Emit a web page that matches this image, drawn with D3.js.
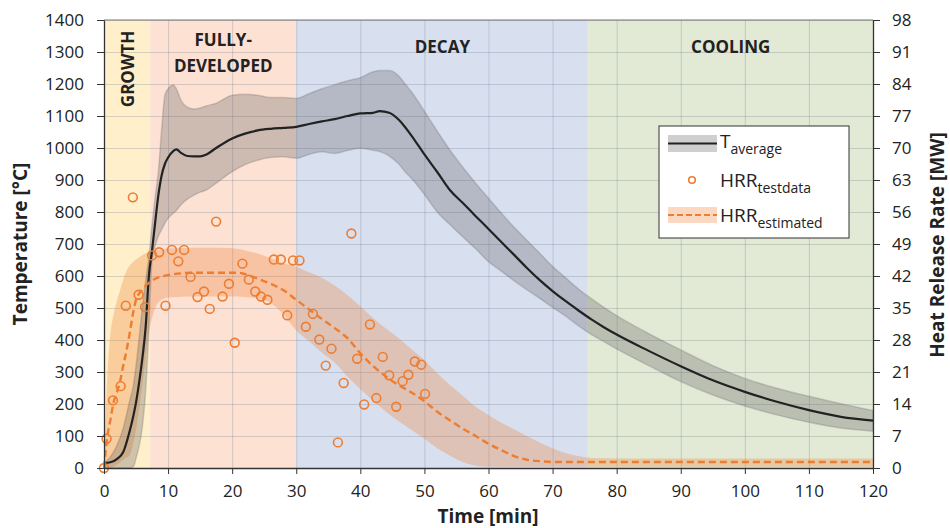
<!DOCTYPE html>
<html>
<head>
<meta charset="utf-8">
<script src="https://d3js.org/d3.v7.min.js"></script>
<style>
  body { margin: 0; background: #fff; }
  svg text { font-family: "Open Sans", sans-serif; fill: #222; }
</style>
</head>
<body>
<div id="chart"></div>
<script>
// phases (minutes)
var phaseNames = ["GROWTH", "FULLY-DEVELOPED", "DECAY", "COOLING"];
var phaseEdges = [0, 7.2, 30, 75.5, 120];
var phaseColors = ["#fff0cb", "#fde1d3", "#d8e0f0", "#e2e9d5"];

// average temperature with its spread band [°C]
var tempTime  = [0, 1, 2, 3, 4, 4.6, 5, 5.5, 6, 6.5, 7, 7.5, 8, 8.5, 9, 9.5, 10, 10.8, 11.3, 12, 13, 14, 15, 16, 17.5, 20, 22, 24, 26, 28, 30, 32, 34, 36, 38, 40, 42, 43, 44.5, 46, 47, 48, 50, 52, 54, 56, 58, 60, 62, 64, 66, 68, 70, 72, 74, 76, 78, 80, 85, 90, 95, 100, 105, 110, 115, 120];
var tempAvg   = [15, 18, 28, 50, 115, 165, 205, 270, 345, 440, 600, 680, 770, 855, 915, 950, 970, 990, 996, 985, 975, 974, 974, 980, 1000, 1030, 1045, 1055, 1060, 1063, 1066, 1075, 1083, 1090, 1100, 1108, 1110, 1115, 1110, 1088, 1065, 1038, 980, 925, 868, 828, 787, 747, 706, 666, 625, 587, 553, 522, 493, 465, 440, 417, 366, 318, 274, 238, 207, 181, 160, 148];
var tempUpper = [15, 35, 70, 125, 210, 260, 320, 410, 505, 585, 660, 760, 850, 930, 1060, 1165, 1185, 1197, 1185, 1150, 1128, 1122, 1125, 1132, 1140, 1165, 1168, 1165, 1158, 1158, 1155, 1170, 1185, 1198, 1210, 1220, 1238, 1242, 1242, 1225, 1200, 1175, 1115, 1053, 993, 940, 890, 843, 797, 752, 712, 671, 630, 595, 560, 530, 502, 476, 420, 369, 320, 280, 249, 224, 201, 180];
var tempLower = [0, 0, 0, 0, 0, 5, 30, 70, 130, 240, 430, 650, 695, 725, 745, 765, 780, 796, 805, 822, 840, 852, 862, 869, 890, 926, 948, 962, 970, 973, 968, 980, 988, 983, 992, 999, 993, 989, 975, 950, 925, 905, 855, 800, 760, 722, 685, 645, 615, 585, 557, 530, 502, 475, 445, 418, 395, 372, 320, 270, 228, 194, 166, 143, 125, 115];

// estimated heat release rate with band [MW]
var hrrTime  = [0, 0.5, 1, 1.5, 2, 2.5, 3, 3.5, 4, 4.5, 5, 5.5, 6, 7, 8, 9, 10, 14, 18, 21, 22, 24, 26, 28, 30, 32, 34, 36, 38, 40, 42, 44, 46, 48, 50, 52, 54, 56, 58, 60, 62, 64, 66, 68, 70, 72, 74, 76, 80, 120];
var hrrEst   = [0, 6.7, 10.5, 14.4, 16.5, 18.9, 22.4, 25.6, 29.4, 33.6, 36.8, 38.2, 39.1, 40.5, 41.4, 41.9, 42.2, 42.7, 42.7, 42.7, 42.4, 41.4, 40.3, 38.9, 36.8, 34.7, 32.6, 30.6, 28.4, 25.1, 22.3, 20.0, 18.1, 16.5, 14.6, 12.3, 10.4, 8.6, 7.0, 5.3, 3.9, 2.6, 1.8, 1.5, 1.3, 1.3, 1.3, 1.3, 1.3, 1.3];
var hrrUpper = [0, 19.6, 29.4, 33.6, 36.5, 38.9, 41.2, 43.1, 44.3, 45.0, 45.6, 46.1, 46.6, 47.2, 47.6, 47.8, 48.0, 48.2, 48.2, 47.9, 47.6, 46.9, 45.9, 44.8, 44.0, 42.8, 41.6, 39.9, 37.8, 35.4, 32.8, 30.5, 28.4, 26.0, 23.6, 20.7, 18.1, 15.8, 13.4, 11.6, 9.9, 8.5, 7.0, 5.6, 4.3, 3.3, 2.6, 2.2, 2.1, 2.1];
var hrrLower = [0, 0, 0, 0.3, 0.7, 1.2, 1.8, 2.3, 2.8, 5.0, 8.4, 13.0, 18.2, 29.4, 35.0, 36.8, 37.3, 37.5, 37.5, 37.5, 37.4, 37.1, 36.1, 33.6, 30.1, 27.7, 25.2, 23.1, 20.0, 17.2, 14.7, 12.3, 10.2, 8.3, 6.4, 4.3, 2.7, 1.3, 0.5, 0.3, 0.3, 0.3, 0.3, 0.3, 0.3, 0.3, 0.3, 0.3, 0.3, 0.3];

// measured heat release rate [MW]
var testTime = [0, 0.4, 1.4, 2.6, 3.4, 4.5, 5.4, 6.4, 7.5, 8.6, 9.6, 10.6, 11.6, 12.5, 13.5, 14.6, 15.6, 16.5, 17.5, 18.5, 19.5, 20.4, 21.6, 22.6, 23.6, 24.5, 25.5, 26.5, 27.6, 28.6, 29.5, 30.5, 31.5, 32.6, 33.6, 34.6, 35.5, 36.5, 37.4, 38.6, 39.5, 40.6, 41.5, 42.5, 43.5, 44.5, 45.6, 46.6, 47.5, 48.5, 49.5, 50.1];
var testHrr  = [0, 6.4, 14.8, 17.9, 35.5, 59.2, 37.9, 35.2, 46.5, 47.2, 35.5, 47.7, 45.2, 47.7, 41.8, 37.4, 38.6, 34.8, 53.9, 37.5, 40.3, 27.4, 44.7, 41.2, 38.6, 37.5, 36.8, 45.6, 45.6, 33.4, 45.4, 45.4, 30.9, 33.7, 28.1, 22.4, 26.1, 5.6, 18.6, 51.3, 23.9, 13.9, 31.4, 15.3, 24.3, 20.3, 13.4, 19.0, 20.4, 23.3, 22.6, 16.2];

var timeTicks = [0, 10, 20, 30, 40, 50, 60, 70, 80, 90, 100, 110, 120];
var tempTicks = [0, 100, 200, 300, 400, 500, 600, 700, 800, 900, 1000, 1100, 1200, 1300, 1400];
var hrrTicks  = [0, 7, 14, 21, 28, 35, 42, 49, 56, 63, 70, 77, 84, 91, 98];

var margin = {top: 20, right: 77, bottom: 60, left: 104};
var width = 950 - margin.left - margin.right;
var height = 528 - margin.top - margin.bottom;
var orange = "#ed7d31";

var svg = d3.select("#chart").append("svg")
    .attr("width", 950)
    .attr("height", 528),
    g = svg.append("g")
    .attr("transform", "translate(" + margin.left + "," + margin.top + ")");

var x = d3.scaleLinear().domain([0, 120]).range([0, width]);
var y = d3.scaleLinear().domain([0, 1400]).range([height, 0]);
var y2 = d3.scaleLinear().domain([0, 98]).range([height, 0]);

// phase backgrounds
g.selectAll(".phase")
    .data(phaseNames)
    .enter().append("rect")
    .attr("class", "phase")
    .attr("x", function (d, i) { return x(phaseEdges[i]); })
    .attr("width", function (d, i) { return x(phaseEdges[i + 1]) - x(phaseEdges[i]); })
    .attr("y", 0)
    .attr("height", height)
    .attr("fill", function (d, i) { return phaseColors[i]; });

// gridlines
g.append("g")
    .call(d3.axisBottom(x).tickValues(timeTicks).tickSize(height).tickFormat(""))
    .call(function (s) { s.select(".domain").remove(); })
    .selectAll("line").style("stroke", "rgba(110,120,135,0.28)");

g.append("g")
    .call(d3.axisLeft(y).tickValues(tempTicks).tickSize(-width).tickFormat(""))
    .call(function (s) { s.select(".domain").remove(); })
    .selectAll("line").style("stroke", "rgba(110,120,135,0.28)");

// bands
var hrrRows = hrrTime.map(function (t, i) {
    return {t: t, est: hrrEst[i], hi: hrrUpper[i], lo: hrrLower[i]};
});
var tempRows = tempTime.map(function (t, i) {
    return {t: t, avg: tempAvg[i], hi: tempUpper[i], lo: tempLower[i]};
});

g.append("path")
    .datum(hrrRows)
    .attr("fill", "rgba(237,125,49,0.3)")
    .attr("d", d3.area().curve(d3.curveMonotoneX)
        .x(function (d) { return x(d.t); })
        .y0(function (d) { return y2(d.lo); })
        .y1(function (d) { return y2(d.hi); }));

g.append("path")
    .datum(tempRows)
    .attr("fill", "rgba(95,95,100,0.3)")
    .attr("stroke", "rgba(95,95,100,0.25)")
    .attr("stroke-width", 1.5)
    .attr("d", d3.area().curve(d3.curveMonotoneX)
        .x(function (d) { return x(d.t); })
        .y0(function (d) { return y(d.lo); })
        .y1(function (d) { return y(d.hi); }));

g.append("path")
    .datum(tempRows)
    .attr("fill", "none")
    .attr("stroke", "#222")
    .attr("stroke-width", 2.2)
    .attr("d", d3.line().curve(d3.curveMonotoneX)
        .x(function (d) { return x(d.t); })
        .y(function (d) { return y(d.avg); }));

g.append("path")
    .datum(hrrRows)
    .attr("fill", "none")
    .attr("stroke", orange)
    .attr("stroke-width", 2.4)
    .attr("stroke-dasharray", "7,4")
    .attr("d", d3.line().curve(d3.curveMonotoneX)
        .x(function (d) { return x(d.t); })
        .y(function (d) { return y2(d.est); }));

g.selectAll(".pt")
    .data(testTime)
    .enter().append("circle")
    .attr("class", "pt")
    .attr("cx", function (d) { return x(d); })
    .attr("cy", function (d, i) { return y2(testHrr[i]); })
    .attr("r", 4.4)
    .attr("fill", "none")
    .attr("stroke", orange)
    .attr("stroke-width", 1.6);

// top border
g.append("line")
    .attr("x1", 0).attr("x2", width)
    .attr("y1", 0).attr("y2", 0)
    .attr("stroke", "#777").attr("stroke-width", 1.2);

// axes
function styleAxis(sel) {
    sel.selectAll("text").style("font-size", "17px").style("fill", "#222");
    sel.selectAll("line").style("stroke", "#333");
    sel.select(".domain").style("stroke", "#333").style("stroke-width", 1.3);
}

g.append("g")
    .attr("transform", "translate(0," + height + ")")
    .call(d3.axisBottom(x).tickValues(timeTicks).tickSizeInner(6).tickSizeOuter(0).tickPadding(11))
    .call(styleAxis);

g.append("g")
    .call(d3.axisLeft(y).tickValues(tempTicks).tickFormat(d3.format("d"))
        .tickSizeInner(7).tickSizeOuter(0).tickPadding(13))
    .call(styleAxis);

g.append("g")
    .attr("transform", "translate(" + width + ",0)")
    .call(d3.axisRight(y2).tickValues(hrrTicks).tickSizeInner(7).tickSizeOuter(0).tickPadding(12))
    .call(styleAxis);

// axis titles
svg.append("text")
    .attr("transform", "translate(27,244) rotate(-90)")
    .attr("text-anchor", "middle")
    .style("font-size", "19px").style("font-weight", "bold")
    .text("Temperature [°C]");

svg.append("text")
    .attr("x", 488).attr("y", 523)
    .attr("text-anchor", "middle")
    .style("font-size", "19px").style("font-weight", "bold")
    .text("Time [min]");

svg.append("text")
    .attr("transform", "translate(944,245) rotate(-90)")
    .attr("text-anchor", "middle")
    .style("font-size", "19px").style("font-weight", "bold")
    .text("Heat Release Rate [MW]");

// phase labels
var lab = g.append("g");
function phaseLabel(px, py, txt, rot) {
    lab.append("text")
        .attr("transform", "translate(" + px + "," + py + ")" + (rot ? " rotate(-90)" : ""))
        .attr("text-anchor", "middle")
        .style("font-size", "17px").style("font-weight", "bold")
        .text(txt);
}
phaseLabel(x(3.6) + 7, 49, "GROWTH", true);
phaseLabel(x(18.6), 26, "FULLY-");
phaseLabel(x(18.6), 52, "DEVELOPED");
phaseLabel(x(52.8), 33, "DECAY");
phaseLabel(x(97.8), 33, "COOLING");

// legend
var lg = svg.append("g").attr("transform", "translate(659,126)");
lg.append("rect")
    .attr("width", 190).attr("height", 112)
    .attr("fill", "#fff").attr("stroke", "#333").attr("stroke-width", 1);

lg.append("rect").attr("x", 9).attr("y", 9).attr("width", 49).attr("height", 17)
    .attr("fill", "rgba(95,95,100,0.3)");
lg.append("line").attr("x1", 9).attr("x2", 58).attr("y1", 17.5).attr("y2", 17.5)
    .attr("stroke", "#222").attr("stroke-width", 2.2);
lg.append("circle").attr("cx", 33).attr("cy", 54).attr("r", 3.3)
    .attr("fill", "none").attr("stroke", orange).attr("stroke-width", 1.6);
lg.append("rect").attr("x", 9).attr("y", 81).attr("width", 49).attr("height", 16)
    .attr("fill", "rgba(237,125,49,0.3)");
lg.append("line").attr("x1", 9).attr("x2", 58).attr("y1", 89).attr("y2", 89)
    .attr("stroke", orange).attr("stroke-width", 2).attr("stroke-dasharray", "6,3");

var legendItems = [["T", "average", 22], ["HRR", "testdata", 61], ["HRR", "estimated", 96]];
legendItems.forEach(function (it) {
    var t = lg.append("text").attr("x", 61).attr("y", it[2]).style("font-size", "19px");
    t.append("tspan").text(it[0]);
    t.append("tspan").attr("dy", 6).style("font-size", "14px").text(it[1]);
});
</script>
</body>
</html>
